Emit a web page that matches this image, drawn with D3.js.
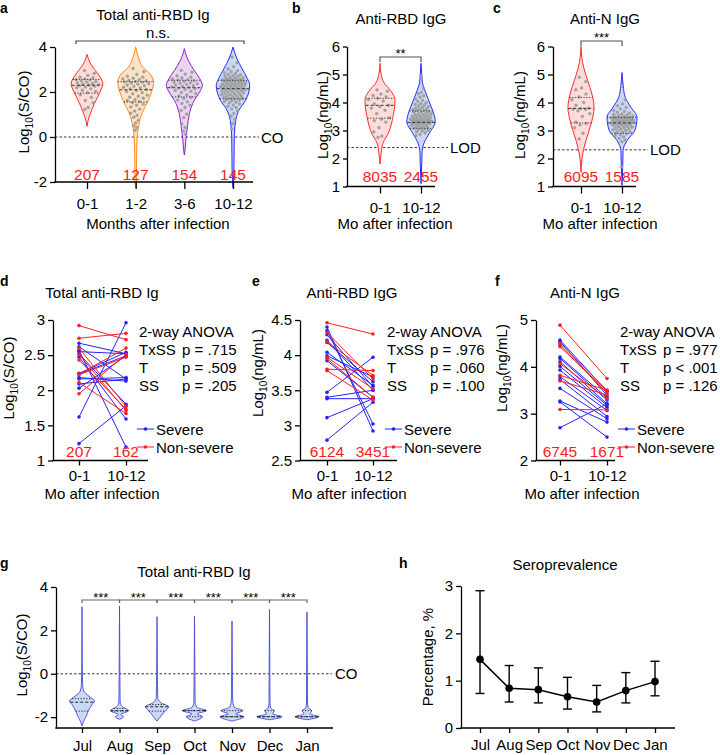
<!DOCTYPE html>
<html>
<head>
<meta charset="utf-8">
<script src="https://cdn.jsdelivr.net/npm/d3@7/dist/d3.min.js"></script>
<style>
html,body{margin:0;padding:0;background:#fff;}
svg{display:block;}
text{font-family:Arial,"Liberation Sans",Helvetica,sans-serif;fill:#000;}
</style>
</head>
<body>
<svg id="fig" width="720" height="755"></svg>
<script>
// ================= DATA =================
// Panel a: Total anti-RBD Ig by months after infection
const aGroups = ["0-1","1-2","3-6","10-12"];
const aCounts = ["207","127","154","145"];
// violin density profiles: [log10 value, relative density]
const aViolin01 = [[0.47,0],[0.7,0.05],[1.0,0.17],[1.5,0.42],[2.0,0.72],[2.37,0.88],[2.7,0.7],[3.0,0.42],[3.3,0.17],[3.5,0.07],[3.67,0]];
const aViolin12 = [[-2.25,0],[-2.0,0.04],[-1.0,0.05],[0,0.08],[0.5,0.17],[0.9,0.28],[1.3,0.5],[1.63,0.7],[2.0,0.88],[2.44,1.0],[2.8,0.8],[3.1,0.4],[3.55,0.15],[4.0,0]];
const aViolin36 = [[-0.8,0],[-0.5,0.05],[-0.15,0.08],[0.44,0.17],[1.04,0.28],[1.63,0.55],[2.0,0.85],[2.3,1.0],[2.6,0.85],[2.96,0.55],[3.4,0.22],[3.93,0]];
const aViolin1012 = [[-2.25,0],[-1.5,0.05],[0,0.07],[0.15,0.08],[0.74,0.15],[1.19,0.33],[1.63,0.7],[2.0,0.88],[2.3,0.93],[2.6,0.8],[3.04,0.5],[3.48,0.22],[4.0,0]];
// [Q1, median, Q3]
const aQuartiles = [[1.95,2.30,2.56],[1.56,2.10,2.46],[1.78,2.19,2.52],[1.70,2.15,2.52]];
const aDots01 = [2.95,2.82,2.74,2.66,2.63,2.58,2.55,2.53,2.49,2.47,2.44,2.41,2.38,2.36,2.33,2.31,2.28,2.26,2.22,2.19,2.14,2.08,2.03,1.97,1.88,1.76,1.62,1.52,1.31,1.22];
const aDots12 = [3.05,2.9,2.78,2.7,2.66,2.61,2.58,2.55,2.52,2.49,2.47,2.45,2.43,2.4,2.37,2.35,2.31,2.28,2.25,2.21,2.18,2.14,2.11,2.07,2.02,1.97,1.92,1.86,1.81,1.77,1.72,1.66,1.62,1.57,1.52,1.46,1.41,1.33,1.24,1.15,1.06,0.96,0.88,0.74,0.62,0.5,0.42,0.3];
const aDots36 = [2.96,2.88,2.79,2.71,2.66,2.62,2.58,2.55,2.52,2.5,2.47,2.44,2.41,2.39,2.36,2.33,2.31,2.28,2.26,2.23,2.2,2.17,2.14,2.11,2.07,2.03,1.98,1.93,1.87,1.82,1.76,1.71,1.64,1.57,1.49,1.41,1.31,1.18,1.02,0.86,0.58,0.42,0.26,0.12];
const aDots1012 = [3.55,3.3,3.12,3.02,2.95,2.9,2.86,2.82,2.79,2.76,2.73,2.71,2.69,2.66,2.64,2.62,2.6,2.58,2.57,2.55,2.53,2.52,2.5,2.49,2.47,2.46,2.44,2.43,2.41,2.4,2.38,2.37,2.35,2.34,2.32,2.31,2.29,2.28,2.26,2.25,2.23,2.22,2.2,2.19,2.17,2.16,2.14,2.13,2.11,2.1,2.08,2.06,2.05,2.03,2.01,1.99,1.97,1.95,1.93,1.91,1.89,1.87,1.85,1.83,1.81,1.79,1.77,1.75,1.73,1.71,1.69,1.67,1.64,1.61,1.58,1.55,1.51,1.47,1.42,1.37,1.31,1.24,1.16,1.05,0.92,0.78,0.6,0.35];
const aYTicks = [-2,0,2,4];

// Panel b: Anti-RBD IgG
const bGroups = ["0-1","10-12"];
const bCounts = ["8035","2455"];
const bViolin01 = [[1.8,0],[2.2,0.08],[2.55,0.2],[2.9,0.55],[3.5,0.87],[4.1,1.0],[4.45,0.67],[4.7,0.27],[5.0,0.08],[5.4,0]];
const bViolin1012 = [[1.1,0],[1.8,0.05],[2.2,0.07],[2.55,0.2],[2.9,0.55],[3.32,0.95],[3.6,0.85],[3.86,0.67],[4.33,0.33],[4.7,0.1],[5.0,0.05],[5.4,0]];
const bQuartiles = [[3.44,3.90,4.15],[3.08,3.29,3.70]];
const bDots01 = [4.45,4.4,4.3,4.25,4.2,4.15,4.1,4.05,3.95,3.9,3.85,3.8,3.72,3.6,3.45,3.4,3.35,3.3,3.1,2.95,2.8,2.75];
const bDots1012 = [4.95,4.5,4.36,4.31,4.24,4.19,4.13,4.08,4.04,3.99,3.96,3.93,3.91,3.88,3.85,3.83,3.8,3.78,3.77,3.74,3.72,3.71,3.68,3.66,3.65,3.62,3.6,3.59,3.57,3.55,3.54,3.52,3.51,3.49,3.48,3.46,3.45,3.44,3.42,3.41,3.4,3.39,3.38,3.37,3.36,3.35,3.34,3.33,3.32,3.31,3.3,3.29,3.28,3.27,3.26,3.25,3.24,3.23,3.22,3.2,3.19,3.17,3.15,3.13,3.11,3.09,3.07,3.05,3.03,3.01,2.98,2.95,2.91,2.86,2.81];
const bYTicks = [1,2,3,4,5,6];
const bLOD = 2.39;

// Panel c: Anti-N IgG
const cGroups = ["0-1","10-12"];
const cCounts = ["6095","1585"];
const cViolin01 = [[1.5,0],[2.16,0.11],[2.64,0.33],[3.23,0.67],[3.83,0.87],[4.3,0.73],[4.78,0.45],[5.25,0.18],[5.6,0.06],[6.0,0]];
const cViolin1012 = [[1.04,0],[1.8,0.05],[2.28,0.07],[2.64,0.33],[3.0,0.85],[3.47,1.0],[3.83,0.6],[4.18,0.22],[4.6,0.08],[5.07,0]];
const cQuartiles = [[3.27,3.79,4.18],[2.90,3.27,3.47]];
const cDots01 = [4.9,4.75,4.52,4.45,4.3,4.2,4.1,4.0,3.9,3.8,3.78,3.76,3.75,3.7,3.6,3.5,3.3,3.25,3.2,3.1,2.9,2.7];
const cDots1012 = [4.58,4.1,3.95,3.88,3.82,3.77,3.72,3.68,3.65,3.62,3.59,3.57,3.55,3.53,3.51,3.5,3.48,3.47,3.46,3.45,3.44,3.43,3.42,3.41,3.4,3.39,3.38,3.37,3.36,3.35,3.34,3.33,3.32,3.31,3.3,3.29,3.28,3.27,3.26,3.25,3.24,3.22,3.21,3.2,3.18,3.17,3.15,3.13,3.12,3.1,3.08,3.06,3.04,3.02,3.0,2.98,2.96,2.94,2.91,2.88,2.85,2.81,2.77,2.72,2.66,2.6,1.7];
const cYTicks = [1,2,3,4,5,6];
const cLOD = 2.31;

// Panels d-f: paired values [0-1 mo, 10-12 mo]
const pairGroups = ["0-1","10-12"];
const dSevere = [[2.67,2.52],[2.62,2.16],[2.57,1.19],[2.55,2.52],[2.52,1.80],[2.475,1.59],[2.24,2.54],[2.23,2.49],[2.18,2.13],[2.16,2.18],[2.09,2.16],[2.03,2.49],[1.62,2.96],[1.24,1.78]];
const dNonSevere = [[2.92,2.72],[2.74,2.81],[2.60,1.77],[2.51,1.71],[2.43,1.73],[2.23,2.60],[2.11,1.67],[1.95,2.51],[2.22,2.47]];
const dCounts = ["207","162"];
const dStats = [["TxSS","p = .715"],["T","p = .509"],["SS","p = .205"]];
const dYTicks = [1,1.5,2,2.5,3];

const eSevere = [[4.40,2.92],[4.35,3.02],[4.29,3.55],[4.21,3.50],[4.18,3.62],[4.04,3.57],[3.99,3.69],[3.92,3.40],[3.47,3.97],[3.40,3.50],[3.38,3.38],[3.11,3.38],[2.79,3.33]];
const eNonSevere = [[4.46,4.30],[4.32,3.66],[4.19,3.71],[3.97,3.52],[3.95,3.40],[3.80,3.78],[3.78,3.36]];
const eCounts = ["6124","3451"];
const eStats = [["TxSS","p = .976"],["T","p = .060"],["SS","p = .100"]];
const eYTicks = [2.5,3,3.5,4,4.5];

const fSevere = [[4.57,3.48],[4.54,3.39],[4.21,3.34],[4.18,3.29],[4.11,3.21],[4.01,3.18],[3.93,3.13],[3.79,3.07],[3.73,2.94],[3.54,2.89],[3.27,2.82],[3.25,2.50],[2.70,3.21]];
const fNonSevere = [[4.89,3.75],[4.50,3.50],[4.46,3.44],[4.43,3.48],[4.07,3.32],[3.82,3.50],[3.70,3.40],[3.09,3.08]];
const fCounts = ["6745","1671"];
const fStats = [["TxSS","p = .977"],["T","p < .001"],["SS","p = .126"]];
const fYTicks = [2,3,4,5];

// Panel g: Total anti-RBD Ig by month
const gMonths = ["Jul","Aug","Sep","Oct","Nov","Dec","Jan"];
const gViolinJul = [[-2.4,0],[-2.2,0.12],[-1.95,0.35],[-1.72,0.5],[-1.42,0.8],[-1.26,1.0],[-1.03,0.55],[-0.8,0.14],[-0.5,0.05],[0,0.03],[3.09,0]];
const gViolinAug = [[-2.1,0],[-1.98,0.32],[-1.88,0.1],[-1.7,0.72],[-1.5,0.2],[-1.3,0.05],[0,0.03],[3.12,0]];
const gViolinSep = [[-2.18,0],[-1.95,0.32],[-1.72,0.64],[-1.52,0.94],[-1.34,0.32],[-1.1,0.06],[0,0.03],[2.63,0]];
const gViolinOct = [[-2.18,0],[-1.98,0.64],[-1.85,0.2],[-1.7,0.96],[-1.55,0.2],[-1.3,0.05],[0,0.03],[2.66,0]];
const gViolinNov = [[-2.18,0],[-1.98,0.94],[-1.85,0.3],[-1.7,0.88],[-1.55,0.2],[-1.2,0.05],[0,0.03],[2.43,0]];
const gViolinDec = [[-2.12,0],[-1.98,1.0],[-1.85,0.25],[-1.7,0.38],[-1.58,0.1],[-1.3,0.04],[0,0.03],[2.97,0]];
const gViolinJan = [[-2.12,0],[-1.98,0.94],[-1.85,0.25],[-1.7,0.38],[-1.58,0.1],[-1.3,0.04],[0,0.03],[2.85,0]];
const gQuartiles = [[-1.72,-1.31,-1.15],[-1.72,-1.70,-1.60],[-1.72,-1.52,-1.42],[-1.98,-1.70,-1.70],[-1.98,-1.98,-1.70],[-1.98,-1.98,-1.70],[-1.98,-1.98,-1.70]];
const gYTicks = [-2,0,2,4];

// Panel h: Seroprevalence (%)
const hMonths = ["Jul","Aug","Sep","Oct","Nov","Dec","Jan"];
const hValues = [1.45,0.84,0.81,0.66,0.55,0.79,0.98];
const hLower  = [0.73,0.55,0.53,0.40,0.34,0.53,0.68];
const hUpper  = [2.90,1.32,1.27,1.07,0.90,1.17,1.41];
const hYTicks = [0,1,2,3];

// ================= DRAWING =================
const svg = d3.select('#fig');
const fmt = d => String(d);

function txt(x, y, s, size, opts = {}) {
  const t = svg.append('text').attr('x', x).attr('y', y).attr('font-size', size).text(s);
  if (opts.anchor) t.attr('text-anchor', opts.anchor);
  if (opts.weight) t.attr('font-weight', opts.weight);
  if (opts.fill) t.style('fill', opts.fill);
  return t;
}
function yAxis(x, y, ticks, tsize = 5) {
  const ax = d3.axisLeft(y).tickValues(ticks).tickSize(tsize).tickSizeOuter(0).tickPadding(3).tickFormat(fmt);
  const a = svg.append('g').attr('transform', `translate(${x},0)`).call(ax);
  a.selectAll('path,line').attr('stroke', '#000').attr('stroke-width', 1.3);
  a.selectAll('text').attr('font-size', 15).attr('font-family', null);
  return a;
}
function xAxis(x0, x1, yPos, xs, tsize, pad) {
  svg.append('line').attr('x1', x0 - 0.65).attr('x2', x1).attr('y1', yPos).attr('y2', yPos).attr('stroke', '#000').attr('stroke-width', 1.3);
  const ax = d3.axisBottom(xs).tickSize(tsize).tickSizeOuter(0).tickPadding(pad);
  const a = svg.append('g').attr('transform', `translate(0,${yPos})`).call(ax);
  a.select('.domain').remove();
  a.selectAll('line').attr('stroke', '#000').attr('stroke-width', 1.3);
  a.selectAll('text').attr('font-size', 15).attr('font-family', null);
}
function yLabel(xc, yc, rest) {
  const t = svg.append('text').attr('transform', `translate(${xc + 4},${yc}) rotate(-90)`).attr('text-anchor', 'middle').attr('font-size', 15);
  t.append('tspan').text('Log');
  t.append('tspan').text('10').attr('font-size', 10).attr('dy', 4);
  t.append('tspan').text(rest).attr('dy', -4);
}
function interpW(p, v) {
  if (v <= p[0][0]) return p[0][1];
  for (let i = 1; i < p.length; i++) {
    if (v <= p[i][0]) { const [a0, w0] = p[i - 1], [a1, w1] = p[i]; return w0 + (w1 - w0) * (v - a0) / (a1 - a0); }
  }
  return p[p.length - 1][1];
}
function violin(cx, prof, y, w, stroke, fill, sw = 1) {
  const area = d3.area().curve(d3.curveMonotoneY).y(d => y(d[0])).x0(d => cx - w(d[1])).x1(d => cx + w(d[1]));
  svg.append('path').datum(prof).attr('d', area).attr('fill', fill).attr('stroke', stroke).attr('stroke-width', sw).attr('stroke-linejoin', 'round');
}
function violinDots(cx, vals, prof, y, w) {
  vals.forEach((v, i) => {
    const s = ((i * 0.6180339887 + 0.31) % 1) * 2 - 1;
    const hw = w(interpW(prof, v)) * 0.8;
    svg.append('circle').attr('cx', cx + s * hw).attr('cy', y(v)).attr('r', 1.45)
      .attr('fill', '#a3a3a3').attr('stroke', '#8c8c8c').attr('stroke-width', 0.3);
  });
}
function quartiles(cx, q, prof, y, w, color = '#333') {
  q.forEach((v, i) => {
    const hw = w(interpW(prof, v));
    svg.append('line').attr('x1', cx - hw).attr('x2', cx + hw).attr('y1', y(v)).attr('y2', y(v))
      .attr('stroke', color).attr('stroke-width', 1).attr('stroke-dasharray', i === 1 ? '3,2' : '1.2,1.6');
  });
}
function bracket(x0, x1, yb, drop, color = '#555') {
  svg.append('path').attr('d', `M${x0},${yb + drop}V${yb}H${x1}V${yb + drop}`).attr('fill', 'none').attr('stroke', color).attr('stroke-width', 1.2);
}
function dashedH(x0, x1, yv) {
  svg.append('line').attr('x1', x0).attr('x2', x1).attr('y1', yv).attr('y2', yv).attr('stroke', '#333').attr('stroke-width', 1).attr('stroke-dasharray', '2.5,2');
}

// ---------- Panel a ----------
{
  const y = d3.scaleLinear().domain([-2, 4]).range([182, 47]);
  const x = d3.scalePoint().domain(aGroups).range([87, 233]);
  const w = d3.scaleLinear().domain([0, 1]).range([0, 18]);
  txt(0, 13, 'a', 14, { weight: 'bold' });
  txt(153, 20, 'Total anti-RBD Ig', 15, { anchor: 'middle' });
  txt(158, 37.5, 'n.s.', 15, { anchor: 'middle' });
  bracket(76, 244, 41, 3, '#444');
  dashedH(55, 259, y(0));
  txt(261, y(0) + 5.5, 'CO', 15);
  const profs = [aViolin01, aViolin12, aViolin36, aViolin1012];
  const dotsets = [aDots01, aDots12, aDots36, aDots1012];
  const strokes = ['#ff2a2a', '#ff8c1a', '#8e1fc9', '#2a2aff'];
  const fills = ['#fddcd9', '#fde2c5', '#e9d5f1', '#c9d8f4'];
  aGroups.forEach((g, i) => {
    violin(x(g), profs[i], y, w, strokes[i], fills[i]);
    violinDots(x(g), dotsets[i], profs[i], y, w);
    quartiles(x(g), aQuartiles[i], profs[i], y, w);
    txt(x(g), 180, aCounts[i], 15.5, { anchor: 'middle', fill: '#ff1a1a' });
  });
  yAxis(55, y, aYTicks);
  xAxis(55, 253, 182, x, 7, 9);
  txt(158, 229, 'Months after infection', 15, { anchor: 'middle' });
  yLabel(25, 112, '(S/CO)');
}

// ---------- Panels b and c ----------
function twoViolin(o) {
  const y = d3.scaleLinear().domain([1, 6]).range([186.5, 46.5]);
  const x = d3.scalePoint().domain(o.groups).range(o.xr);
  const w = d3.scaleLinear().domain([0, 1]).range([0, 15]);
  txt(o.lx, 13, o.letter, 14, { weight: 'bold' });
  txt(o.tx, 24, o.title, 15, { anchor: 'middle' });
  bracket(o.xr[0], o.xr[1], o.by, 5);
  txt((o.xr[0] + o.xr[1]) / 2, o.by + 1, o.star, 13, { anchor: 'middle' });
  dashedH(o.ax, o.lodEnd, y(o.lod));
  txt(o.lodEnd + 2, y(o.lod) + 5.5, 'LOD', 15);
  const strokes = ['#ff2a2a', '#2a2aff'];
  const fills = ['#fddcd9', '#c9d8f4'];
  o.groups.forEach((g, i) => {
    violin(x(g), o.profs[i], y, w, strokes[i], fills[i]);
    violinDots(x(g), o.dots[i], o.profs[i], y, w);
    quartiles(x(g), o.q[i], o.profs[i], y, w);
    txt(x(g), 182, o.counts[i], 15.5, { anchor: 'middle', fill: '#ff1a1a' });
  });
  yAxis(o.ax, y, o.ticks, o.ts);
  xAxis(o.ax, o.xr[1] + 14, 186.5, x, 7, 9);
  txt(o.xt, 229, 'Mo after infection', 15, { anchor: 'middle' });
  yLabel(o.yl, 115, '(ng/mL)');
}
twoViolin({ letter: 'b', lx: 292, title: 'Anti-RBD IgG', tx: 401, groups: bGroups, xr: [380, 421], ax: 347, ts: 4, by: 57, star: '**',
  lod: bLOD, lodEnd: 448, profs: [bViolin01, bViolin1012], dots: [bDots01, bDots1012], q: bQuartiles, counts: bCounts, ticks: bYTicks, xt: 395, yl: 324 });
twoViolin({ letter: 'c', lx: 493, title: 'Anti-N IgG', tx: 605, groups: cGroups, xr: [581, 622], ax: 553, ts: 5, by: 41, star: '***',
  lod: cLOD, lodEnd: 648, profs: [cViolin01, cViolin1012], dots: [cDots01, cDots1012], q: cQuartiles, counts: cCounts, ticks: cYTicks, xt: 600, yl: 521 });

// ---------- Panels d, e, f ----------
function paired(o) {
  const y = d3.scaleLinear().domain(o.domain).range([460.5, 320]);
  const x = d3.scalePoint().domain(pairGroups).range(o.xr);
  txt(o.lx, 286, o.letter, 14, { weight: 'bold' });
  txt(o.tx, 298, o.title, 15, { anchor: 'middle' });
  const col = { s: '#2323ff', n: '#ff2020' };
  const drawSet = (pairs, c) => {
    pairs.forEach(p => {
      svg.append('line').attr('x1', x('0-1')).attr('x2', x('10-12')).attr('y1', y(p[0])).attr('y2', y(p[1]))
        .attr('stroke', c).attr('stroke-width', 1);
    });
    pairs.forEach(p => {
      svg.append('circle').attr('cx', x('0-1')).attr('cy', y(p[0])).attr('r', 1.8).attr('fill', c);
      svg.append('circle').attr('cx', x('10-12')).attr('cy', y(p[1])).attr('r', 1.8).attr('fill', c);
    });
  };
  drawSet(o.severe, col.s);
  drawSet(o.non, col.n);
  txt(o.sx, 337, '2-way ANOVA', 15);
  o.stats.forEach((s, i) => {
    txt(o.sx, 355 + i * 18, s[0], 15);
    txt(o.sx + 43, 355 + i * 18, s[1], 15);
  });
  [['Severe', col.s, 429], ['Non-severe', col.n, 447]].forEach(([lab, c, ly]) => {
    svg.append('line').attr('x1', o.lgx).attr('x2', o.lgx + 17).attr('y1', ly).attr('y2', ly).attr('stroke', c).attr('stroke-width', 1);
    svg.append('circle').attr('cx', o.lgx + 8.5).attr('cy', ly).attr('r', 1.8).attr('fill', c);
    txt(o.lgx + 19, ly + 5.5, lab, 15);
  });
  pairGroups.forEach((g, i) => txt(x(g), 457, o.counts[i], 15.5, { anchor: 'middle', fill: '#ff1a1a' }));
  yAxis(o.ax, y, o.ticks);
  xAxis(o.ax, o.xend, 460.5, x, 5, 5);
  txt(o.xt, 499, 'Mo after infection', 15, { anchor: 'middle' });
  yLabel(o.yl, o.yc, o.unit);
}
paired({ letter: 'd', lx: 0, title: 'Total anti-RBD Ig', tx: 102, domain: [1, 3], xr: [79, 126], ax: 53, xend: 148,
  severe: dSevere, non: dNonSevere, stats: dStats, sx: 139, lgx: 137, counts: dCounts, ticks: dYTicks, xt: 102, yl: 10, yc: 378, unit: '(S/CO)' });
paired({ letter: 'e', lx: 252, title: 'Anti-RBD IgG', tx: 352, domain: [2.5, 4.5], xr: [327, 373], ax: 300, xend: 397,
  severe: eSevere, non: eNonSevere, stats: eStats, sx: 387, lgx: 385, counts: eCounts, ticks: eYTicks, xt: 349, yl: 259, yc: 373, unit: '(ng/mL)' });
paired({ letter: 'f', lx: 495, title: 'Anti-N IgG', tx: 585, domain: [2, 5], xr: [560, 607], ax: 536, xend: 615,
  severe: fSevere, non: fNonSevere, stats: fStats, sx: 620, lgx: 618, counts: fCounts, ticks: fYTicks, xt: 582, yl: 503, yc: 368, unit: '(ng/mL)' });

// ---------- Panel g ----------
{
  const y = d3.scaleLinear().domain([-2.5, 4]).range([728, 587]);
  const x = d3.scalePoint().domain(gMonths).range([82, 307]);
  const w = d3.scaleLinear().domain([0, 1]).range([0, 12.5]);
  txt(0, 568, 'g', 14, { weight: 'bold' });
  txt(194, 577, 'Total anti-RBD Ig', 15, { anchor: 'middle' });
  dashedH(56, 332, y(0));
  txt(335, y(0) + 5.5, 'CO', 15);
  const profs = [gViolinJul, gViolinAug, gViolinSep, gViolinOct, gViolinNov, gViolinDec, gViolinJan];
  gMonths.forEach((m, i) => {
    violin(x(m), profs[i], y, w, '#4a4ad6', '#c9d8f4', 0.9);
    quartiles(x(m), gQuartiles[i], profs[i], y, w, '#222');
  });
  for (let i = 0; i < gMonths.length - 1; i++) {
    bracket(x(gMonths[i]), x(gMonths[i + 1]), 600, 3, '#666');
    txt((x(gMonths[i]) + x(gMonths[i + 1])) / 2, 602, '***', 13, { anchor: 'middle' });
  }
  yAxis(56, y, gYTicks);
  xAxis(56, 333, 728, x, 5, 7);
  yLabel(23, 655, '(S/CO)');
}

// ---------- Panel h ----------
{
  const y = d3.scaleLinear().domain([0, 3]).range([728, 586]);
  const x = d3.scalePoint().domain(hMonths).range([480, 655]);
  txt(399, 568, 'h', 14, { weight: 'bold' });
  txt(565, 570, 'Seroprevalence', 15, { anchor: 'middle' });
  hMonths.forEach((m, i) => {
    svg.append('line').attr('x1', x(m)).attr('x2', x(m)).attr('y1', y(hLower[i])).attr('y2', y(hUpper[i])).attr('stroke', '#000').attr('stroke-width', 1.4);
    [hLower[i], hUpper[i]].forEach(v => svg.append('line').attr('x1', x(m) - 4.5).attr('x2', x(m) + 4.5).attr('y1', y(v)).attr('y2', y(v)).attr('stroke', '#000').attr('stroke-width', 1.4));
  });
  const line = d3.line().x((d, i) => x(hMonths[i])).y(d => y(d));
  svg.append('path').datum(hValues).attr('d', line).attr('fill', 'none').attr('stroke', '#000').attr('stroke-width', 1.5);
  hMonths.forEach((m, i) => svg.append('circle').attr('cx', x(m)).attr('cy', y(hValues[i])).attr('r', 3.8).attr('fill', '#000'));
  yAxis(461, y, hYTicks);
  xAxis(461, 675, 728, x, 5, 6);
  svg.append('text').attr('transform', `translate(433,657) rotate(-90)`).attr('text-anchor', 'middle').attr('font-size', 15).text('Percentage, %');
}
</script>
</body>
</html>
